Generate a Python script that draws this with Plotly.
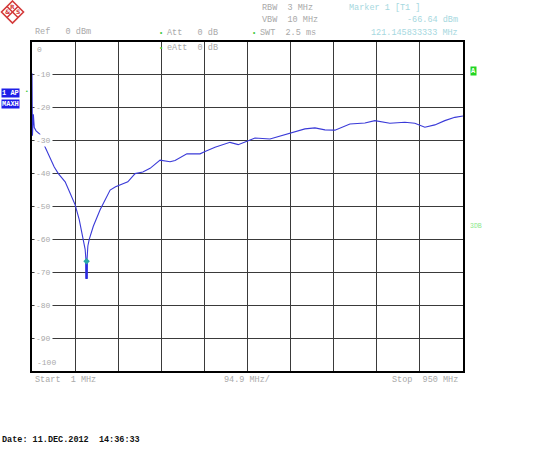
import plotly.graph_objects as go

# ---- data ----
freq_mhz = [1, 2, 4, 6, 10, 18, 25, 33, 41, 50, 59, 74, 85, 96, 105, 114, 118, 120,
            121.1, 122, 124, 127, 136, 151, 162, 173, 185, 195, 212, 228, 245, 261,
            283, 305, 316, 342, 371, 382, 404, 437, 455, 477, 492, 525, 569, 602, 624,
            646, 668, 690, 701, 734, 756, 789, 822, 844, 866, 888, 910, 932, 950]
level_dbm = [-9.5, -28.5, -22, -26, -27, -28, -30.5, -32.8, -35, -38, -40, -42.5, -46,
             -49.5, -54, -59.6, -63, -66.6, -72, -66.6, -62, -60, -56, -51, -48, -45,
             -44, -43.5, -42.5, -40, -39.5, -38.4, -35.9, -36.4, -36, -34, -34, -33.3,
             -32, -30.5, -31.2, -30, -29.2, -29.5, -27.6, -26.4, -26.1, -26.7, -26.8,
             -25.6, -24.9, -24.6, -23.9, -24.7, -24.4, -24.7, -25.9, -25.2, -23.9,
             -22.9, -22.5]
marker_freq = [121.145833333]
marker_level = [-66.64]
spike_freq = [121.1, 121.1]
spike_level = [-66.64, -72.0]
y_tick_vals = [0, -10, -20, -30, -40, -50, -60, -70, -80, -90, -100]
y_tick_text = ["0", "-10", "-20", "-30", "-40", "-50", "-60", "-70", "-80", "-90", "-100"]
x_start, x_stop, x_div = 1, 950, 94.9

# ---- geometry helpers (layout only) ----
L, R, T, B = 32, 463, 42, 371
def px(x):
    return (x - L) / (R - L)
def py(y):
    return (B - y) / (B - T)

MONO = "Liberation Mono"
GRAY = "#a9a9a9"

fig = go.Figure()
fig.add_trace(go.Scatter(x=freq_mhz, y=level_dbm, mode="lines",
                         line=dict(color="#3a3ad8", width=1.1), hoverinfo="skip"))
fig.add_trace(go.Scatter(x=spike_freq, y=spike_level, mode="lines",
                         line=dict(color="#2a2ae0", width=2.6), hoverinfo="skip"))
fig.add_trace(go.Scatter(x=marker_freq, y=marker_level, mode="markers",
                         marker=dict(symbol="diamond", size=5, color="#27a7a7"),
                         hoverinfo="skip"))

anns = []
def ann(text, x, y, xanchor="left", color=GRAY, size=8.5, bg=None, yanchor="middle",
        family=MONO):
    d = dict(text=text, x=px(x), y=py(y), xref="paper", yref="paper",
             xanchor=xanchor, yanchor=yanchor, showarrow=False,
             font=dict(family=family, size=size, color=color))
    if bg:
        d["bgcolor"] = bg
        d["borderpad"] = 0
    anns.append(d)

# y level labels inside the grid
for v, t in zip(y_tick_vals, y_tick_text):
    if v == 0:
        anns.append(dict(text=t, x=px(35), y=py(49), xref="paper", yref="paper",
                         xanchor="left", yanchor="middle", showarrow=False,
                         font=dict(family=MONO, size=8, color=GRAY)))
    elif v == -100:
        anns.append(dict(text=t, x=px(35), y=py(362), xref="paper", yref="paper",
                         xanchor="left", yanchor="middle", showarrow=False,
                         font=dict(family=MONO, size=8, color=GRAY)))
    else:
        anns.append(dict(text=t, x=px(34), y=v, xref="paper", yref="y",
                         xanchor="left", yanchor="middle", showarrow=False,
                         bgcolor="white", borderpad=1,
                         font=dict(family=MONO, size=8, color=GRAY)))

# header texts
ann("Ref   0 dBm", 33, 32)
ann("Att   0 dB", 165, 33)
ann("eAtt  0 dB", 165, 48)
ann("RBW  3 MHz", 260, 8)
ann("VBW  10 MHz", 260, 20)
ann("SWT  2.5 ms", 258, 33)
ann("•", 161, 33, xanchor="center", color="#3cc83c", size=7)
ann("•", 161, 48, xanchor="center", color="#3cc83c", size=7)
ann("•", 254, 33, xanchor="center", color="#3cc83c", size=7)
ann("Marker 1 [T1 ]", 347, 8, color="#a6d8e0")
ann("-66.64 dBm", 460, 20, xanchor="right", color="#a6d8e0")
ann("121.145833333 MHz", 460, 33, xanchor="right", color="#a6d8e0")

# bottom texts
ann("Start  1 MHz", 33, 380)
ann("94.9 MHz/", 247, 380, xanchor="center")
ann("Stop  950 MHz", 460, 380, xanchor="right")
ann("<b>Date: 11.DEC.2012  14:36:33</b>", 0, 440, color="#111111", size=8.5)

# side labels
ann("<b>1 AP</b>", 1, 93, color="white", size=7, bg="#1f1fe8")
ann("<b>MAXH</b>", 1, 104, color="white", size=7, bg="#1f1fe8")
ann("•", 27, 92, xanchor="center", color="#3cc83c", size=6)
ann("<b>A</b>", 473, 71, xanchor="center", color="white", size=7, bg="#22d622")
ann("3DB", 468, 227, color="#8ae88a", size=6.5)

# R&S logo (diamond)
shapes = []
cx, cy, r = 12.5, 12, 11
logo_paths = [
    f"M {px(cx)},{py(cy-r)} L {px(cx+r)},{py(cy)} L {px(cx)},{py(cy+r)} L {px(cx-r)},{py(cy)} Z",
    f"M {px(cx-r/2)},{py(cy-r/2)} L {px(cx+r/2)},{py(cy+r/2)}",
    f"M {px(cx+r/2)},{py(cy-r/2)} L {px(cx-r/2)},{py(cy+r/2)}",
]
for p in logo_paths:
    shapes.append(dict(type="path", path=p, xref="paper", yref="paper",
                       line=dict(color="#d43a3a", width=1.6)))
ann("<b>R</b>", cx, cy - 5.5, xanchor="center", color="#d43a3a", size=6, family="DejaVu Sans")
ann("<b>&</b>", cx - 5.5, cy, xanchor="center", color="#d43a3a", size=6, family="DejaVu Sans")
ann("<b>S</b>", cx + 5.5, cy, xanchor="center", color="#d43a3a", size=6, family="DejaVu Sans")

axis_common = dict(showticklabels=False, ticks="", showgrid=True, gridcolor="#3a3a3a",
                   gridwidth=1, zeroline=False, showline=True, linecolor="black",
                   linewidth=2, mirror=True, layer="below traces")

fig.update_layout(
    width=550, height=456,
    margin=dict(l=L, r=550 - R, t=T, b=456 - B, pad=0),
    paper_bgcolor="white", plot_bgcolor="white", showlegend=False,
    hovermode=False,
    xaxis=dict(range=[x_start, x_stop], tick0=x_start, dtick=x_div, **axis_common),
    yaxis=dict(range=[y_tick_vals[-1], y_tick_vals[0]], tick0=0, dtick=10, **axis_common),
    annotations=anns, shapes=shapes,
)

fig.write_html("out.html", config={"displayModeBar": False},
               post_script="document.body.style.margin='0';document.body.style.padding='0';")
